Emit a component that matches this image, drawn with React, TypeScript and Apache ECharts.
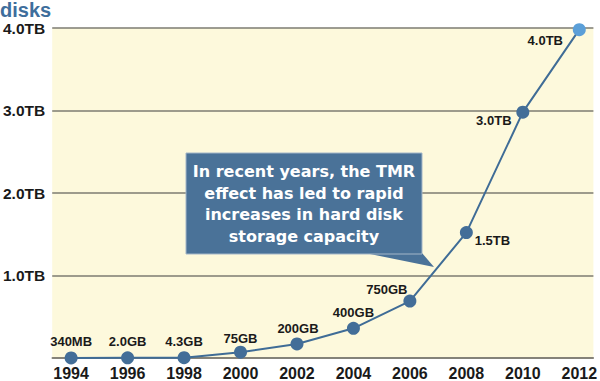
import React, { useEffect, useRef } from "react";
import * as echarts from "echarts";

const years = [1994, 1996, 1998, 2000, 2002, 2004, 2006, 2008, 2010, 2012];
const capacityTB = [0.00034, 0.002, 0.0043, 0.07, 0.17, 0.36, 0.69, 1.52, 2.98, 3.98];
const capacityLabels = ["340MB", "2.0GB", "4.3GB", "75GB", "200GB", "400GB", "750GB", "1.5TB", "3.0TB", "4.0TB"];
const labelOffsets: [number, number][] = [
  [0, -16], [0, -16], [0, -16], [0, -14], [1, -15], [0, -16], [-23, -12], [26, 8], [-29, 8], [-34, 11],
];
const yTicks = [0, 1, 2, 3, 4];
const titleText = "disks";
const calloutLines = [
  "In recent years, the TMR",
  "effect has led to rapid",
  "increases in hard disk",
  "storage capacity",
];

const FONT = "'Liberation Sans', Arial, sans-serif";
const WIDE = "'DejaVu Sans', Verdana, sans-serif";

export default function App() {
  const ref = useRef<HTMLDivElement>(null);
  useEffect(() => {
    document.body.style.margin = "0";
    if (!ref.current) return;
    const chart = echarts.init(ref.current, undefined, { renderer: "svg" });
    const data = years.map((y, i) => ({
      value: [y, capacityTB[i]],
      itemStyle: i === years.length - 1 ? { color: "#5b9fd8" } : undefined,
      label: {
        show: true,
        position: "inside",
        offset: labelOffsets[i],
        formatter: capacityLabels[i],
      },
    }));
    chart.setOption({
      animation: false,
      textStyle: { fontFamily: FONT },
      grid: {
        left: 49,
        right: 2,
        top: 28,
        bottom: 22,
        show: true,
        backgroundColor: "#fdf9dc",
        borderWidth: 0,
      },
      xAxis: {
        type: "value",
        min: 1993.33,
        max: 2012.5,
        axisLine: { show: true, lineStyle: { color: "#7d7b72", width: 1.5 } },
        axisTick: { show: false },
        splitLine: { show: false },
        axisLabel: {
          customValues: years,
          formatter: (v: number) => String(Math.round(v)),
          color: "#1a1a1a",
          fontSize: 16,
          fontWeight: "bold",
          fontFamily: FONT,
          margin: 7,
        },
      },
      yAxis: {
        type: "value",
        min: yTicks[0],
        max: yTicks[yTicks.length - 1],
        interval: 1,
        axisLine: { show: false },
        axisTick: { show: false },
        splitLine: { show: true, lineStyle: { color: "#7d7b72", width: 1.5 } },
        axisLabel: {
          formatter: (v: number) => (v === 0 ? "" : `${v.toFixed(1)}TB`),
          color: "#1a1a1a",
          fontSize: 15.5,
          fontWeight: "bold",
          fontFamily: FONT,
          margin: 7,
        },
      },
      series: [
        {
          type: "line",
          data,
          symbol: "circle",
          symbolSize: 13,
          lineStyle: { color: "#3f6c96", width: 2 },
          itemStyle: { color: "#436e98" },
          label: {
            color: "#1a1a1a",
            fontSize: 13,
            fontWeight: "bold",
            fontFamily: FONT,
          },
          z: 3,
        },
      ],
      graphic: [
        {
          type: "text",
          style: {
            text: titleText,
            x: 0,
            y: 9.5,
            fill: "#3e6e9c",
            font: `bold 20px ${FONT}`,
            verticalAlign: "middle",
          },
        },
        {
          type: "polygon",
          shape: { points: [[365, 253], [422, 253], [434, 267]] },
          style: { fill: "#4a7298" },
          z: 10,
        },
        {
          type: "rect",
          shape: { x: 186, y: 153, width: 236, height: 101 },
          style: { fill: "#4a7298", stroke: "#a3b6c8", lineWidth: 1 },
          z: 11,
        },
        {
          type: "text",
          style: {
            text: calloutLines.join("\n"),
            x: 304,
            y: 204,
            align: "center",
            verticalAlign: "middle",
            fill: "#ffffff",
            font: `bold 16px ${WIDE}`,
            lineHeight: 21.5,
          },
          z: 12,
        },
      ],
    });
    return () => chart.dispose();
  }, []);
  return <div ref={ref} style={{ width: 600, height: 381 }} />;
}
